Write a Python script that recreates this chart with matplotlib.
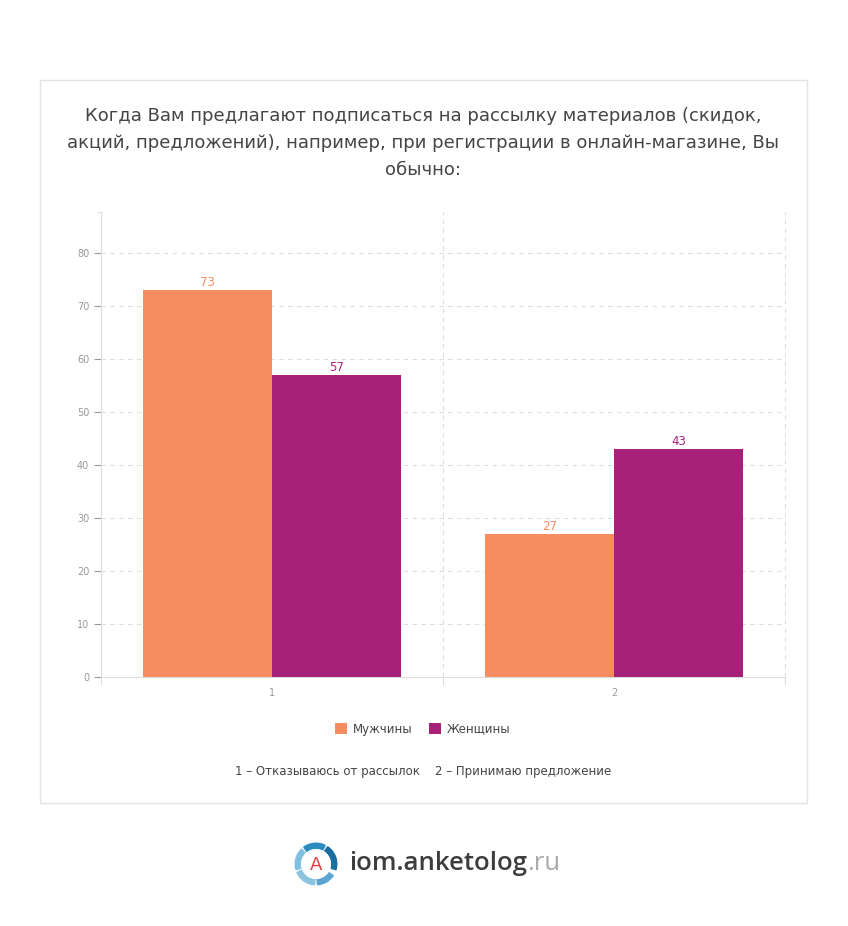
import numpy as np
import matplotlib
matplotlib.use("Agg")
import matplotlib.pyplot as plt
from matplotlib.patches import Rectangle, Wedge, Circle

plt.rcParams['font.family'] = ['DejaVu Sans']

categories = ['1', '2']
men = [73, 27]
women = [57, 43]
series_names = ['Мужчины', 'Женщины']
title = ('Когда Вам предлагают подписаться на рассылку материалов (скидок,\n'
         'акций, предложений), например, при регистрации в онлайн-магазине, Вы\n'
         'обычно:')
footnote = '1 – Отказываюсь от рассылок    2 – Принимаю предложение'

c_men = '#f58d60'
c_women = '#a82178'
grid_c = '#dddddd'

W, H = 848, 926
fig = plt.figure(figsize=(W / 100, H / 100), dpi=100)
fig.patch.set_facecolor('white')

# outer frame
fig.patches.append(Rectangle((40 / W, 1 - 803 / H), 767 / W, 723 / H,
                             transform=fig.transFigure, fill=False,
                             edgecolor='#e3e3e3', linewidth=1))

fig.text(423 / W, 1 - 143 / H, title, ha='center', va='center',
         fontsize=13, color='#444444', linespacing=1.62)

ax = fig.add_axes([101 / W, 1 - 677 / H, 684 / W, 465 / H])
x = np.arange(len(categories))
bw = 0.377
b1 = ax.bar(x - bw / 2, men, bw, color=c_men, label=series_names[0], zorder=3)
b2 = ax.bar(x + bw / 2, women, bw, color=c_women, label=series_names[1], zorder=3)
for bars, col in ((b1, c_men), (b2, c_women)):
    for r in bars:
        ax.text(r.get_x() + r.get_width() / 2, r.get_height() + 0.1,
                str(int(r.get_height())), ha='center', va='bottom',
                fontsize=8.5, color=col, zorder=4)

ax.set_xlim(-0.5, 1.5)
ax.set_ylim(0, 87.7)
ax.set_yticks(range(0, 90, 10))
ax.set_xticks(x)
ax.set_xticklabels(categories)
ax.tick_params(axis='both', labelsize=7, colors='#999999', length=5, width=0.8)
ax.tick_params(axis='x', length=0, pad=8)
for sp in ('top', 'right'):
    ax.spines[sp].set_visible(False)
for sp in ('left', 'bottom'):
    ax.spines[sp].set_color(grid_c)

for t in range(10, 90, 10):
    ax.axhline(t, color=grid_c, linestyle=(0, (4, 4)), linewidth=0.8, zorder=1)
for v in (0.5, 1.5):
    ax.axvline(v, color=grid_c, linestyle=(0, (4, 4)), linewidth=0.8,
               zorder=1, clip_on=False)
# small ticks at category boundaries and top of axis
for v in (-0.5, 0.5, 1.5):
    ax.plot([v, v], [0, -1.3], color=grid_c, lw=0.8, clip_on=False)
ax.plot([-0.5, -0.51], [87.7, 87.7], color=grid_c, lw=0.8, clip_on=False)

fig.legend(handles=[b1, b2], labels=series_names, loc='center',
           bbox_to_anchor=(423 / W, 1 - 729 / H), ncol=2, frameon=False,
           fontsize=8.5, handlelength=1, handleheight=1, handletextpad=0.5,
           columnspacing=1.4, labelcolor='#444444')

fig.text(423 / W, 1 - 771 / H, footnote, ha='center', va='center',
         fontsize=8.5, color='#444444')

# logo
lax = fig.add_axes([290 / W, 1 - 890 / H, 52 / W, 52 / H])
lax.set_xlim(-1, 1)
lax.set_ylim(-1, 1)
lax.set_aspect('equal')
lax.axis('off')
arcs = [(-20, 60, '#1a6fa0'), (60, 130, '#2c8cc0'), (130, 200, '#7fbfe0'),
        (200, 270, '#8cc4df'), (270, 330, '#5aa6d0')]
for a0, a1, col in arcs:
    lax.add_patch(Wedge((0, 0), 0.8, a0 + 4, a1 - 4, width=0.2, color=col))
lax.add_patch(Circle((0, 0), 0.55, color='white'))
lax.text(0, -0.02, 'A', ha='center', va='center', fontsize=13, color='#e84040')

logo = fig.text(349 / W, 1 - 864 / H, 'iom.anketolog', ha='left', va='center',
                fontsize=18.5, color='#3d3d3d', fontweight='semibold',
                family='Open Sans')
ax.annotate('.ru', xy=(1, 0), xycoords=logo, ha='left', va='bottom',
            fontsize=18.5, color='#aaaaaa', family='Open Sans',
            annotation_clip=False)

fig.savefig('out.png', dpi=100, facecolor='white')
